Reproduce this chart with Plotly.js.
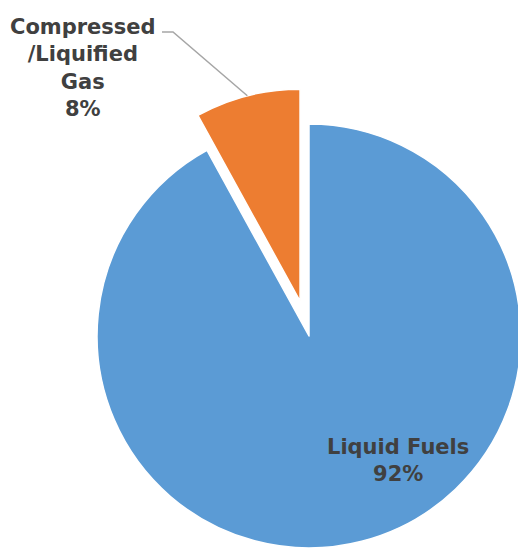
<!DOCTYPE html>
<html>
<head>
<meta charset="utf-8">
<script src="https://cdn.plot.ly/plotly-3.0.1.min.js"></script>
<style>
  html, body { margin: 0; padding: 0; background: #ffffff; overflow: hidden; }
  #chart { width: 557px; height: 584px; }
</style>
</head>
<body>
<div id="chart"></div>
<script>
// Fuel type shares
const categories = ['Liquid Fuels', 'Compressed/Liquified Gas'];
const labelLines = ['Liquid Fuels', 'Compressed<br>/Liquified<br>Gas'];
const values = [92, 8];
const pulls = [0, 0.17];
const colors = ['#5B9BD5', '#ED7D31'];

// Plot box (pixels) – the pie overflows the right/bottom of the page
const M = { l: 61, t: 88, r: 0, b: 0 };
const BOX = 496;
const W = M.l + BOX + M.r;
const H = M.t + BOX + M.b;

const toPx = (px) => (px - M.l) / BOX;
const toPy = (py) => 1 - (py - M.t) / BOX;

const total = values.reduce((a, b) => a + b, 0);
const pct = values.map(v => Math.round(v / total * 100) + '%');

// Geometry of the pie as laid out by plotly (clockwise, starting at 12 o'clock)
const maxPull = Math.max(...pulls);
const cx = M.l + BOX / 2;
const cy = M.t + BOX / 2;
const r = (BOX / 2) / (1 + maxPull);

function arcMid(i) {
  let start = 0;
  for (let k = 0; k < i; k++) start += values[k];
  const mid = (start + values[i] / 2) / total * 2 * Math.PI;
  const dx = Math.sin(mid), dy = -Math.cos(mid);
  const pc = { x: cx + pulls[i] * r * dx, y: cy + pulls[i] * r * dy };
  return { x: pc.x + r * dx, y: pc.y + r * dy };
}

const gasTip = arcMid(1);
const fontSpec = { family: 'DejaVu Sans', size: 21, color: '#404040', weight: 'bold' };

const trace = {
  type: 'pie',
  labels: categories,
  values: values,
  pull: pulls,
  sort: false,
  direction: 'clockwise',
  rotation: 0,
  textinfo: 'none',
  hoverinfo: 'label+percent',
  marker: { colors: colors, line: { color: '#ffffff', width: 1.5 } },
  showlegend: false
};

const layout = {
  width: W,
  height: H,
  margin: M,
  paper_bgcolor: '#ffffff',
  plot_bgcolor: '#ffffff',
  showlegend: false,
  annotations: [
    {
      xref: 'paper', yref: 'paper',
      x: toPx(398), y: toPy(460),
      xanchor: 'center', yanchor: 'middle',
      text: '<b>' + labelLines[0] + '<br>' + pct[0] + '</b>',
      showarrow: false, align: 'center',
      font: fontSpec
    },
    {
      xref: 'paper', yref: 'paper',
      x: toPx(83), y: toPy(68),
      xanchor: 'center', yanchor: 'middle',
      text: '<b>' + labelLines[1] + '<br>' + pct[1] + '</b>',
      showarrow: false, align: 'center',
      font: fontSpec
    }
  ],
  shapes: [
    {
      type: 'path', xref: 'paper', yref: 'paper',
      path: 'M ' + toPx(162) + ' ' + toPy(32) +
            ' L ' + toPx(173) + ' ' + toPy(32) +
            ' L ' + toPx(gasTip.x) + ' ' + toPy(gasTip.y),
      line: { color: '#A6A6A6', width: 1.5 }
    }
  ]
};

Plotly.newPlot('chart', [trace], layout, { displayModeBar: false, staticPlot: true });
</script>
</body>
</html>
